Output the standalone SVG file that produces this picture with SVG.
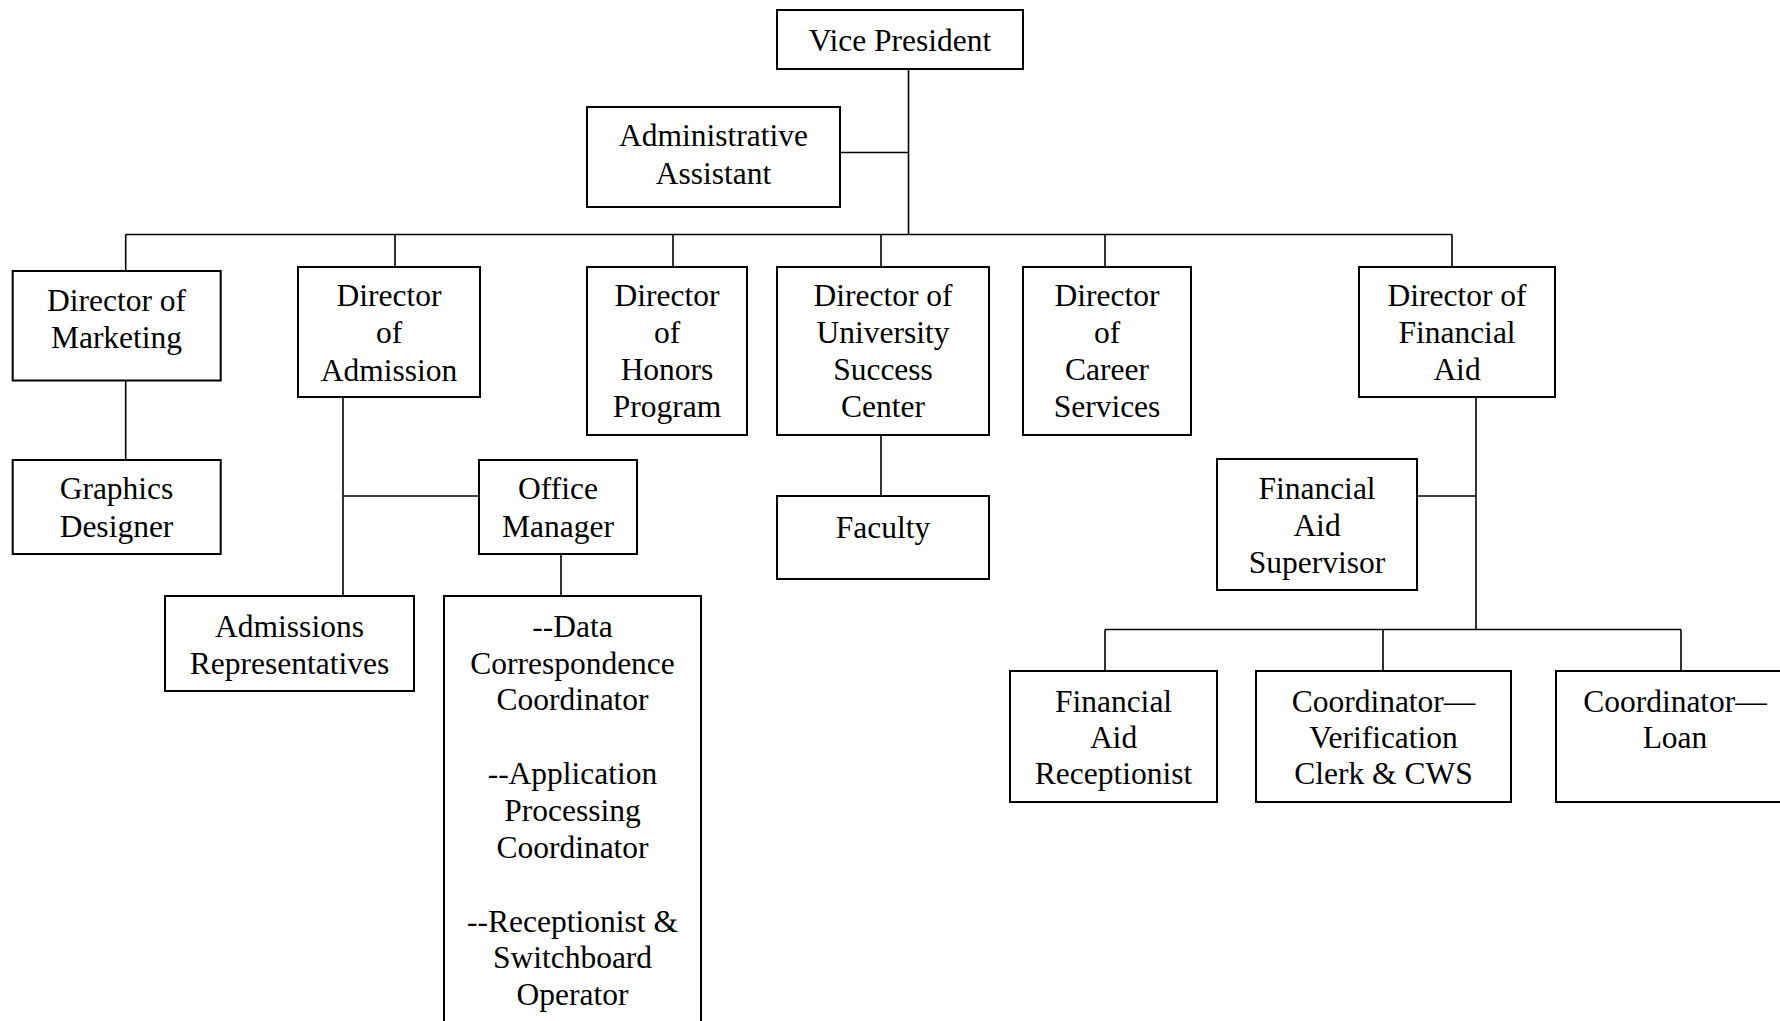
<svg xmlns="http://www.w3.org/2000/svg" width="1780" height="1021" viewBox="0 0 1780 1021">
<style>
.box{fill:#fff;stroke:#000;stroke-width:2}
.t{font-family:"Liberation Serif","Times New Roman",serif;font-size:31.5px;fill:#000;text-anchor:middle}
.c{stroke:#000;stroke-width:1.6;fill:none}
</style>
<rect width="1780" height="1021" fill="#fff"/>
<g id="connectors">
<path class="c" d="M908.5 62V234.5M840 152.5H908.5M125.7 234.5H1452M125.7 234.5V271M395 234.5V267M673 234.5V267M881 234.5V267M1105 234.5V267M1452 234.5V267"/>
<path class="c" d="M125.7 380V460M343 397V596M343 496H479M561 554V596M881 435V496"/>
<path class="c" d="M1476 397V629.5M1417 496H1476M1105 629.5H1681M1105 629.5V671M1383 629.5V671M1681 629.5V671"/>
</g>
<g id="vp"><rect class="box" x="777" y="10" width="246" height="59"/><text class="t" x="900" y="51">Vice President</text></g>
<g id="admin-assistant"><rect class="box" x="587" y="107" width="253" height="100"/><text class="t" x="713.5" y="146">Administrative</text><text class="t" x="713.5" y="184">Assistant</text></g>
<g id="dir-marketing"><rect class="box" x="12.7" y="271" width="208" height="109.5"/><text class="t" x="116.5" y="311">Director of</text><text class="t" x="116.5" y="348">Marketing</text></g>
<g id="dir-admission"><rect class="box" x="298" y="267" width="182" height="130"/><text class="t" x="389" y="306">Director</text><text class="t" x="389" y="343">of</text><text class="t" x="389" y="381">Admission</text></g>
<g id="dir-honors"><rect class="box" x="587" y="267" width="160" height="168"/><text class="t" x="667" y="306">Director</text><text class="t" x="667" y="343">of</text><text class="t" x="667" y="380">Honors</text><text class="t" x="667" y="417">Program</text></g>
<g id="dir-usc"><rect class="box" x="777" y="267" width="212" height="168"/><text class="t" x="883" y="306">Director of</text><text class="t" x="883" y="343">University</text><text class="t" x="883" y="380">Success</text><text class="t" x="883" y="417">Center</text></g>
<g id="dir-career"><rect class="box" x="1023" y="267" width="168" height="168"/><text class="t" x="1107" y="306">Director</text><text class="t" x="1107" y="343">of</text><text class="t" x="1107" y="380">Career</text><text class="t" x="1107" y="417">Services</text></g>
<g id="dir-finaid"><rect class="box" x="1359" y="267" width="196" height="130"/><text class="t" x="1457" y="306">Director of</text><text class="t" x="1457" y="343">Financial</text><text class="t" x="1457" y="380">Aid</text></g>
<g id="graphics"><rect class="box" x="12.7" y="460" width="208" height="94"/><text class="t" x="116.5" y="499">Graphics</text><text class="t" x="116.5" y="537">Designer</text></g>
<g id="office-manager"><rect class="box" x="479" y="460" width="158" height="94"/><text class="t" x="558" y="499">Office</text><text class="t" x="558" y="537">Manager</text></g>
<g id="faculty"><rect class="box" x="777" y="496" width="212" height="83"/><text class="t" x="883" y="538">Faculty</text></g>
<g id="admissions-reps"><rect class="box" x="165" y="596" width="249" height="95"/><text class="t" x="289.5" y="637">Admissions</text><text class="t" x="289.5" y="674">Representatives</text></g>
<g id="office-staff"><rect class="box" x="444" y="596" width="257" height="440"/><text class="t" x="572.5" y="637">--Data</text><text class="t" x="572.5" y="674">Correspondence</text><text class="t" x="572.5" y="710">Coordinator</text><text class="t" x="572.5" y="784">--Application</text><text class="t" x="572.5" y="821">Processing</text><text class="t" x="572.5" y="858">Coordinator</text><text class="t" x="572.5" y="932">--Receptionist &amp;</text><text class="t" x="572.5" y="968">Switchboard</text><text class="t" x="572.5" y="1005">Operator</text></g>
<g id="fa-supervisor"><rect class="box" x="1217" y="459" width="200" height="131"/><text class="t" x="1317" y="499">Financial</text><text class="t" x="1317" y="536">Aid</text><text class="t" x="1317" y="573">Supervisor</text></g>
<g id="fa-receptionist"><rect class="box" x="1010" y="671" width="207" height="131"/><text class="t" x="1113.5" y="712">Financial</text><text class="t" x="1113.5" y="748">Aid</text><text class="t" x="1113.5" y="784">Receptionist</text></g>
<g id="coord-verification"><rect class="box" x="1256" y="671" width="255" height="131"/><text class="t" x="1383.5" y="712">Coordinator—</text><text class="t" x="1383.5" y="748">Verification</text><text class="t" x="1383.5" y="784">Clerk &amp; CWS</text></g>
<g id="coord-loan"><rect class="box" x="1556" y="671" width="240" height="131"/><text class="t" x="1675" y="712">Coordinator—</text><text class="t" x="1675" y="748">Loan</text></g>
</svg>
